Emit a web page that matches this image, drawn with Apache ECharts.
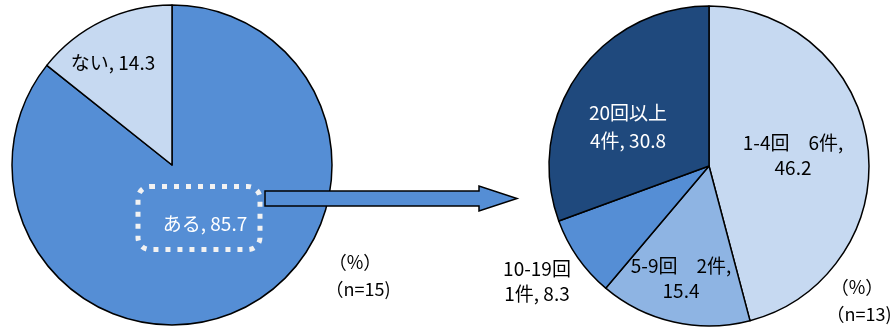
<!DOCTYPE html>
<html><head><meta charset="utf-8">
<script src="https://cdn.jsdelivr.net/npm/echarts@6/dist/echarts.min.js"></script>
<style>html,body{margin:0;padding:0;background:#fff}#c{width:891px;height:329px}</style>
</head><body><div id="c"></div>
<script>
// Left pie: 有無
const leftCats = ['ある', 'ない'];
const leftVals = [85.7, 14.3];
// Right pie: 回数別
const rightCats = ['1-4回', '5-9回', '10-19回', '20回以上'];
const rightCounts = [6, 2, 1, 4];
const rightVals = [46.2, 15.4, 8.3, 30.8];
const leftNote = ['（%）', '（n=15)'];
const rightNote = ['（%）', '（n=13)'];

const FONT = '"Noto Sans CJK JP", "Noto Sans", sans-serif';
const leftColors = ['#558ED5', '#C6D9F1'];
const rightColors = ['#C6D9F1', '#8EB4E3', '#558ED5', '#1F497D'];
const leftLabelPos = [[205, 224], [113, 63]];
const leftLabelColor = ['#fff', '#000'];
const rightLabelPos = [[793, 155], [681, 278], [537, 281], [628, 127]];
const rightLabelColor = ['#000', '#000', '#000', '#fff'];
const rightLineHeight = [25, 25, 25, 28];

const chart = echarts.init(document.getElementById('c'), null, {renderer: 'canvas'});
const option = {
  animation: false,
  series: [
    {
      type: 'pie', center: [172, 165], radius: 160, startAngle: 90, clockwise: true,
      data: leftCats.map((c, i) => ({name: c, value: leftVals[i],
        itemStyle: {color: leftColors[i]},
        label: {color: leftLabelColor[i]}})),
      itemStyle: {borderColor: '#000', borderWidth: 1.5},
      label: {show: true, position: 'inside', fontFamily: FONT, fontSize: 19,
        formatter: p => p.name + ', ' + p.value.toFixed(1)},
      labelLine: {show: false},
      labelLayout: p => ({x: leftLabelPos[p.dataIndex][0], y: leftLabelPos[p.dataIndex][1], align: 'center', verticalAlign: 'middle'}),
      emphasis: {disabled: true}, silent: true, z: 1
    },
    {
      type: 'pie', center: [709, 166], radius: 160, startAngle: 90, clockwise: true,
      data: rightCats.map((c, i) => ({name: c, value: rightVals[i],
        itemStyle: {color: rightColors[i]},
        label: {color: rightLabelColor[i], lineHeight: rightLineHeight[i]}})),
      itemStyle: {borderColor: '#000', borderWidth: 1.5},
      label: {show: true, position: 'inside', fontFamily: FONT, fontSize: 19, align: 'center',
        formatter: p => {
          const i = p.dataIndex;
          if (i === 0 || i === 1) return p.name + '　' + rightCounts[i] + '件,\n' + p.value.toFixed(1);
          return p.name + '\n' + rightCounts[i] + '件, ' + p.value.toFixed(1);
        }},
      labelLine: {show: false},
      labelLayout: p => ({x: rightLabelPos[p.dataIndex][0], y: rightLabelPos[p.dataIndex][1], align: 'center', verticalAlign: 'middle'}),
      emphasis: {disabled: true}, silent: true, z: 1
    }
  ],
  graphic: [
    {type: 'rect', shape: {x: 138, y: 186.5, width: 122, height: 63, r: 12}, z: 10,
      style: {fill: 'none', stroke: '#F2F2F2', lineWidth: 5, lineDash: [5, 7]}},
    {type: 'polygon', z: 10,
      shape: {points: [[265, 191], [479, 191], [479, 186], [517, 198.5], [479, 211], [479, 206], [265, 206]]},
      style: {fill: '#558ED5', stroke: '#000', lineWidth: 1.5}},
    {type: 'text', x: 355, y: 262, z: 10, style: {text: leftNote[0], font: '18px ' + FONT, fill: '#000', align: 'center', verticalAlign: 'middle'}},
    {type: 'text', x: 358, y: 289, z: 10, style: {text: leftNote[1], font: '18px ' + FONT, fill: '#000', align: 'center', verticalAlign: 'middle'}},
    {type: 'text', x: 857, y: 287, z: 10, style: {text: rightNote[0], font: '18px ' + FONT, fill: '#000', align: 'center', verticalAlign: 'middle'}},
    {type: 'text', x: 859, y: 314, z: 10, style: {text: rightNote[1], font: '18px ' + FONT, fill: '#000', align: 'center', verticalAlign: 'middle'}}
  ]
};
chart.setOption(option);
</script>
</body></html>
